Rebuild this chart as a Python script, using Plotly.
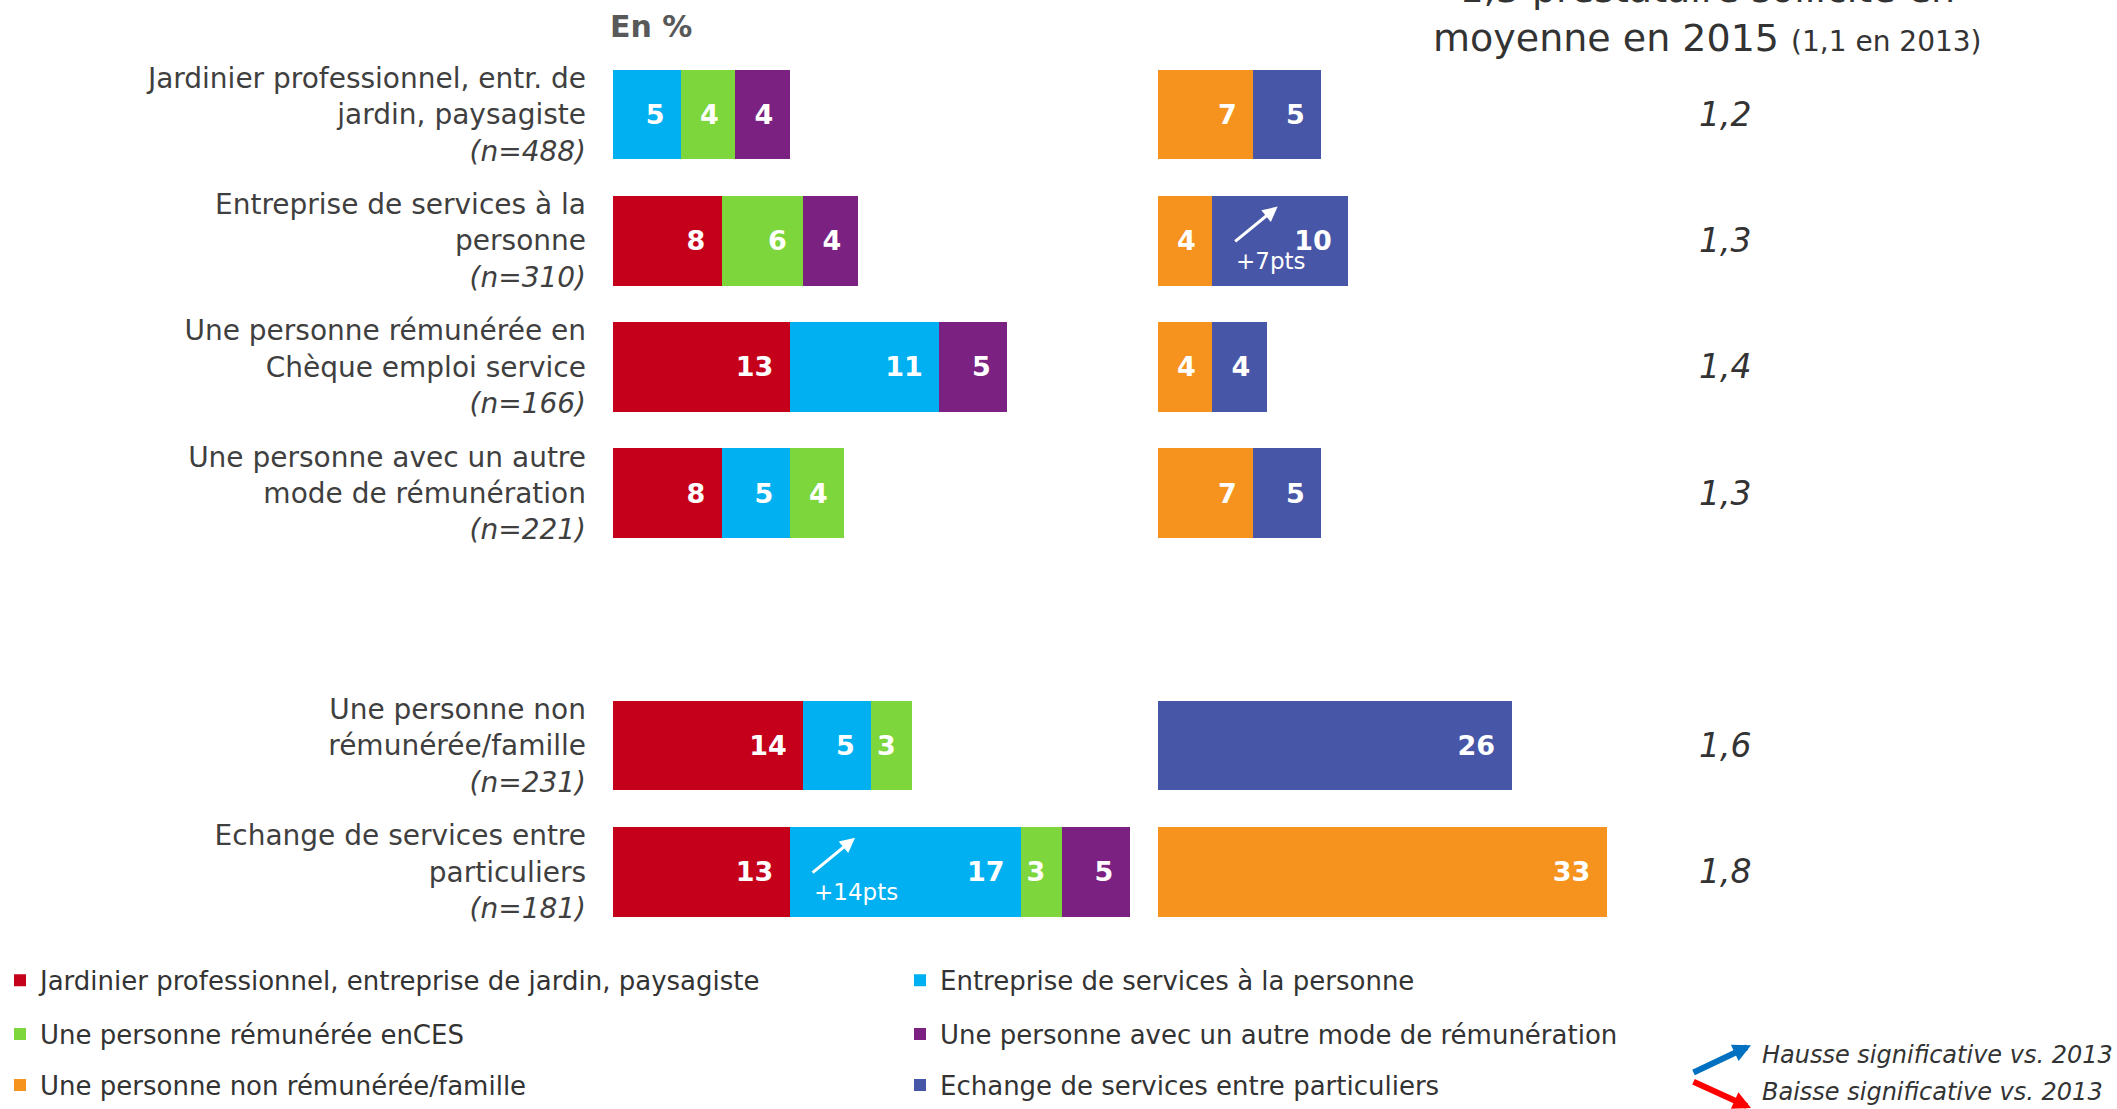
import plotly.graph_objects as go

W, H = 2117, 1109

# rows, top to bottom
row_labels = [
    "Jardinier professionnel, entr. de<br>jardin, paysagiste",
    "Entreprise de services à la<br>personne",
    "Une personne rémunérée en<br>Chèque emploi service",
    "Une personne avec un autre<br>mode de rémunération",
    "Une personne non<br>rémunérée/famille",
    "Echange de services entre<br>particuliers",
]
row_n = [488, 310, 166, 221, 231, 181]
avg_providers = ["1,2", "1,3", "1,4", "1,3", "1,6", "1,8"]

series_names = [
    "Jardinier professionnel, entreprise de jardin, paysagiste",
    "Entreprise de services à la personne",
    "Une personne rémunérée enCES",
    "Une personne avec un autre mode de rémunération",
    "Une personne non rémunérée/famille",
    "Echange de services entre particuliers",
]
jardinier = [None, 8, 13, 8, 14, 13]
entreprise = [5, None, 11, 5, 5, 17]
ces = [4, 6, None, 4, 3, 3]
autre_mode = [4, 4, 5, None, None, 5]
non_remuneree = [7, 4, 4, 7, None, 33]
echange = [5, 10, 4, 5, 26, None]

# significant rises vs 2013: (series index, row index, label)
rises = [(5, 1, "+7pts"), (1, 5, "+14pts")]

colors = ["#C5001A", "#00B0F0", "#7DD63B", "#7A2182", "#F6921E", "#4756A6"]
series = [jardinier, entreprise, ces, autre_mode, non_remuneree, echange]
axis_of = ["x", "x", "x", "x", "x2", "x2"]
legend_of = ["legend", "legend", "legend2", "legend2", "legend3", "legend3"]

# leave an empty slot between the 4th and 5th rows
ypos = [i + (1 if i >= 4 else 0) for i in range(len(row_labels))]
ticktext = [f"{lab}<br><i>(n={n})</i>" for lab, n in zip(row_labels, row_n)]

FONT = "DejaVu Sans"
TXT = "#3F3F3F"

fig = go.Figure()
for name, vals, col, ax, lg in zip(series_names, series, colors, axis_of, legend_of):
    fig.add_trace(go.Bar(
        y=ypos, x=vals, orientation="h", name=name,
        marker=dict(color=col, line=dict(width=0)),
        text=[f"{v}\u2002" if v else "" for v in vals],
        textposition="inside", insidetextanchor="end",
        textfont=dict(family=FONT, size=27, color="white", weight="bold"),
        xaxis=ax, yaxis="y", legend=lg, hoverinfo="skip",
    ))

px_unit = 13.6
left_x0, right_x0 = 613, 1158
left_range, right_range = 39, 50

fig.update_layout(
    width=W, height=H, barmode="stack", bargap=0.29,
    margin=dict(l=0, r=0, t=0, b=0),
    plot_bgcolor="white", paper_bgcolor="white",
    font=dict(family=FONT, color=TXT),
    xaxis=dict(domain=[left_x0 / W, (left_x0 + left_range * px_unit) / W], range=[0, left_range],
               visible=False, fixedrange=True),
    xaxis2=dict(domain=[right_x0 / W, (right_x0 + right_range * px_unit) / W], range=[0, right_range],
                anchor="y", visible=False, fixedrange=True),
    yaxis=dict(domain=[1 - 937.5 / H, 1 - 51.5 / H], range=[6.5, -0.5],
               tickvals=ypos, ticktext=ticktext, ticks="", showgrid=False, zeroline=False,
               showline=False, ticklabelstandoff=26, fixedrange=True,
               tickfont=dict(family=FONT, size=28, color=TXT)),
)

leg_common = dict(orientation="h", xanchor="left", yanchor="middle", entrywidth=855,
                  traceorder="normal", font=dict(family=FONT, size=26, color="#333333"),
                  bgcolor="rgba(0,0,0,0)", itemclick=False)
fig.update_layout(
    legend=dict(x=0, y=1 - 983 / H, **leg_common),
    legend2=dict(x=0, y=1 - 1037 / H, **leg_common),
    legend3=dict(x=0, y=1 - 1088 / H, **leg_common),
)

ann = []
# "En %"
ann.append(dict(text="<b>En %</b>", xref="paper", yref="paper", x=608 / W, y=1 - 27 / H,
                xanchor="left", yanchor="middle", showarrow=False,
                font=dict(family=FONT, size=30, color="#595959")))
# header of the right-hand column
ann.append(dict(text="1,3 prestataire sollicité en<br>moyenne en 2015 "
                     "<span style='font-size:28px'>(1,1 en 2013)</span>",
                xref="paper", yref="paper", x=1707 / W, y=1 - 62 / H,
                xanchor="center", yanchor="bottom", showarrow=False,
                font=dict(family=FONT, size=38, color="#333333")))
# average number of providers per row
for yp, v in zip(ypos, avg_providers):
    ann.append(dict(text=v, xref="paper", yref="y", x=1725 / W, y=yp, xanchor="center",
                    yanchor="middle", showarrow=False,
                    font=dict(family=FONT, size=33, color="#333333", style="italic")))
# significance arrows inside bars
for si, ri, lab in rises:
    group = range(4) if si < 4 else range(4, 6)
    base = sum((series[k][ri] or 0) for k in group if k < si)
    xr = axis_of[si]
    ann.append(dict(text="", xref=xr, yref="y", x=base + 4.8, y=ypos[ri] - 0.27,
                    ax=-44, ay=36, showarrow=True, arrowhead=2, arrowsize=1,
                    arrowwidth=3, arrowcolor="white"))
    ann.append(dict(text=lab, xref=xr, yref="y", x=base + 1.6, y=ypos[ri] + 0.16,
                    xanchor="left", yanchor="middle", showarrow=False,
                    font=dict(family=FONT, size=23, color="white")))
# significance key
ann.append(dict(text="", xref="paper", yref="paper", x=1751 / W, y=1 - 1048 / H,
                ax=-59, ay=28, showarrow=True, arrowhead=2, arrowsize=0.6,
                arrowwidth=6, arrowcolor="#0070C0"))
ann.append(dict(text="", xref="paper", yref="paper", x=1751 / W, y=1 - 1114 / H,
                ax=-59, ay=-30, showarrow=True, arrowhead=2, arrowsize=0.6,
                arrowwidth=6, arrowcolor="#FF0000"))
for t, yy in [("Hausse significative vs. 2013", 1058), ("Baisse significative vs. 2013", 1095)]:
    ann.append(dict(text=t, xref="paper", yref="paper", x=1760 / W, y=1 - yy / H,
                    xanchor="left", yanchor="middle", showarrow=False,
                    font=dict(family=FONT, size=24, color="#333333", style="italic")))
fig.update_layout(annotations=ann)

fig.write_html("out.html", config={"displayModeBar": False},
               post_script="document.body.style.margin='0';")
